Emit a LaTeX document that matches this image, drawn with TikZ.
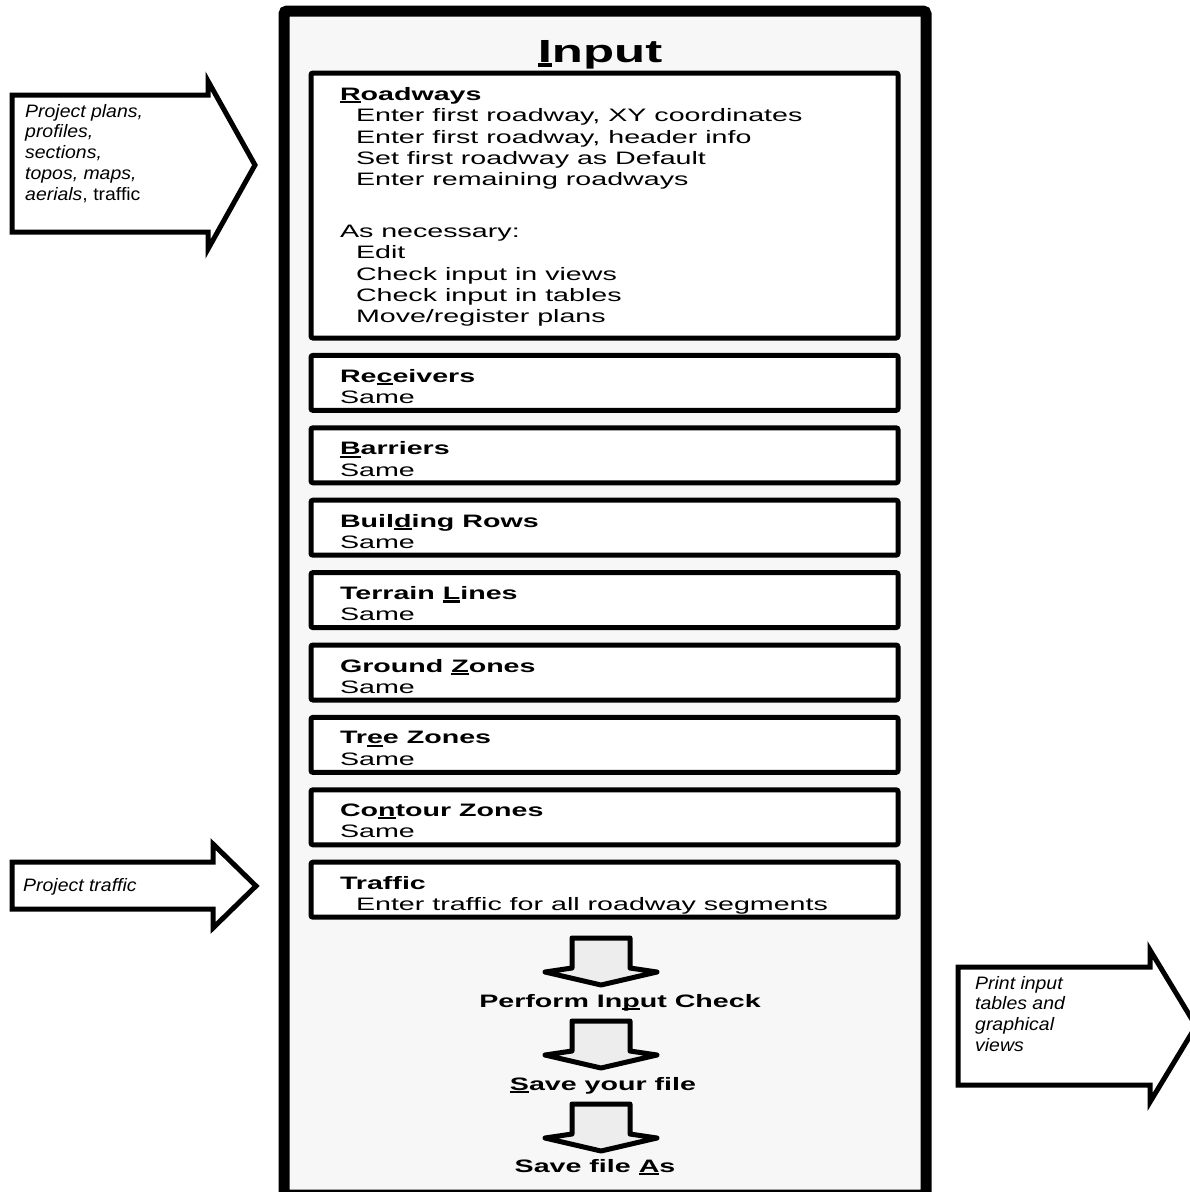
\documentclass[tikz,border=0pt]{standalone}
\usepackage{fontspec}
\setmainfont[FakeStretch=1.59]{Liberation Sans}
\newfontfamily\sidefont[FakeStretch=1.08]{Liberation Sans}
\usetikzlibrary{positioning}
\definecolor{panelgray}{HTML}{F7F7F7}
\definecolor{arrowgray}{HTML}{EDEDED}
\newcommand{\ukey}[1]{\setbox0\hbox{#1}\rlap{\rule[-0.16em]{\wd0}{0.12em}}#1}
\tikzstyle{frame} = [
draw=black,
line width=11pt,
fill=panelgray,
rounded corners=3pt]
\tikzstyle{entry} = [
draw=black,
line width=5pt,
fill=white,
rectangle,
rounded corners=2pt,
minimum width=587pt,
minimum height=55pt,
inner sep=0pt,
outer sep=0pt]
\tikzstyle{entrytext} = [
font=\fontsize{18}{21.3}\selectfont,
align=left,
inner sep=0pt,
outer sep=0pt]
\tikzstyle{steptext} = [
font=\fontsize{18}{21.3}\selectfont\bfseries,
inner sep=0pt,
anchor=base]
\tikzstyle{downarrow} = [
draw=black,
line width=5pt,
fill=arrowgray,
line join=round]
\tikzstyle{sidearrow} = [
draw=black,
line width=5pt,
fill=white]
\tikzstyle{sidetext} = [
font=\sidefont\fontsize{18}{20.7}\selectfont\itshape,
align=left,
inner sep=0pt,
anchor=north west]

\begin{document}
\begin{tikzpicture}[x=1pt, y=-1pt, node distance=17.4pt]
\useasboundingbox (0,0) rectangle (1190,1192);

\draw[frame] (284,11) rectangle (926,1195);
\node[font=\fontsize{32}{36}\selectfont\bfseries, inner sep=0pt, anchor=base] (title) at (600,62) {\ukey{I}nput};

\node[entry, minimum height=265pt, anchor=north west] (roadways) at (311,73) {};
\node[entry, below=of roadways] (receivers) {};
\node[entry, below=of receivers] (barriers) {};
\node[entry, below=of barriers] (buildings) {};
\node[entry, below=of buildings] (terrain) {};
\node[entry, below=of terrain] (ground) {};
\node[entry, below=of ground] (trees) {};
\node[entry, below=of trees] (contours) {};
\node[entry, below=of contours] (traffic) {};

\node[entrytext, below right=14.4pt and 29pt of roadways.north west] (roadwaysText) {\textbf{\ukey{R}oadways}\\
\hspace*{16pt}Enter first roadway, XY coordinates\\
\hspace*{16pt}Enter first roadway, header info\\
\hspace*{16pt}Set first roadway as Default\\
\hspace*{16pt}Enter remaining roadways\\[30.5pt]
As necessary:\\
\hspace*{16pt}Edit\\
\hspace*{16pt}Check input in views\\
\hspace*{16pt}Check input in tables\\
\hspace*{16pt}Move/register plans};
\node[entrytext, below right=14pt and 29pt of receivers.north west] (receiversText) {\textbf{Re\ukey{c}eivers}\\Same};
\node[entrytext, below right=14pt and 29pt of barriers.north west] (barriersText) {\textbf{\ukey{B}arriers}\\Same};
\node[entrytext, below right=14pt and 29pt of buildings.north west] (buildingsText) {\textbf{Buil\ukey{d}ing Rows}\\Same};
\node[entrytext, below right=14pt and 29pt of terrain.north west] (terrainText) {\textbf{Terrain \ukey{L}ines}\\Same};
\node[entrytext, below right=14pt and 29pt of ground.north west] (groundText) {\textbf{Ground \ukey{Z}ones}\\Same};
\node[entrytext, below right=14pt and 29pt of trees.north west] (treesText) {\textbf{Tr\ukey{e}e Zones}\\Same};
\node[entrytext, below right=14pt and 29pt of contours.north west] (contoursText) {\textbf{Co\ukey{n}tour Zones}\\Same};
\node[entrytext, below right=14pt and 29pt of traffic.north west] (trafficText) {\textbf{Traffic}\\
\hspace*{16pt}Enter traffic for all roadway segments};

\draw[downarrow] (572,938) -- (630,938) -- (630,968) -- (657,972) -- (601,985) -- (545,972) -- (572,968) -- cycle;
\draw[downarrow, shift={(0,83)}] (572,938) -- (630,938) -- (630,968) -- (657,972) -- (601,985) -- (545,972) -- (572,968) -- cycle;
\draw[downarrow, shift={(0,166)}] (572,938) -- (630,938) -- (630,968) -- (657,972) -- (601,985) -- (545,972) -- (572,968) -- cycle;
\node[steptext] (inputCheck) at (620,1007) {Perform In\ukey{p}ut Check};
\node[steptext] (saveFile) at (603,1090) {\ukey{S}ave your file};
\node[steptext] (saveAs) at (595,1172) {Save file \ukey{A}s};

\draw[sidearrow] (12,95) -- (208,95) -- (208,81) -- (255,165) -- (208,249) -- (208,232) -- (12,232) -- cycle;
\node[sidetext] (plansText) at (25,104) {Project plans,\\profiles,\\sections,\\topos, maps,\\aerials{\upshape, traffic}};

\draw[sidearrow] (12,862) -- (213,862) -- (213,844) -- (256,886) -- (213,928) -- (213,909) -- (12,909) -- cycle;
\node[sidetext] (projectTraffic) at (23,878) {Project traffic};

\draw[sidearrow] (958,967) -- (1150,967) -- (1150,950) -- (1196,1026) -- (1150,1102) -- (1150,1085) -- (958,1085) -- cycle;
\node[sidetext] (printText) at (975,976) {Print input\\tables and\\graphical\\views};

\end{tikzpicture}
\end{document}
